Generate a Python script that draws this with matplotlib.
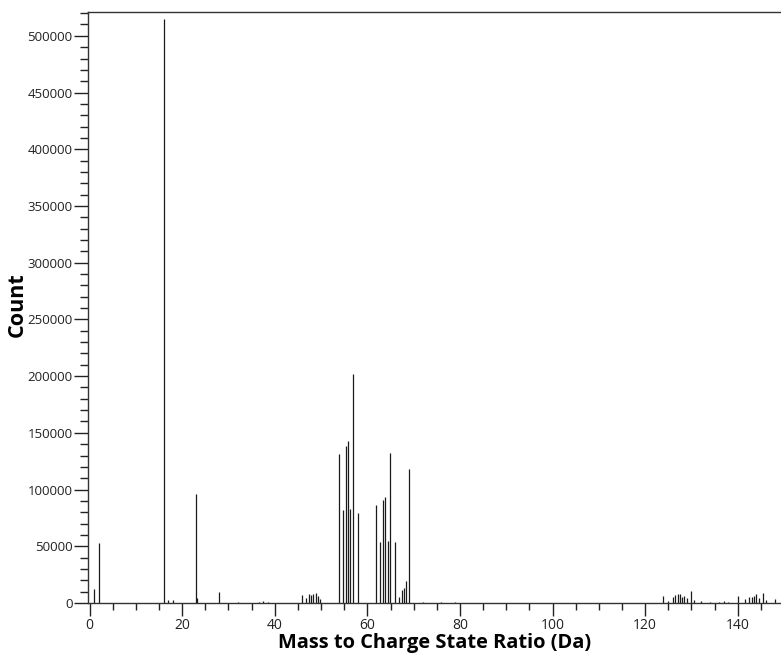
import numpy as np
import matplotlib
matplotlib.use('Agg')
import matplotlib.pyplot as plt
from matplotlib.ticker import MultipleLocator

# ==========================================================
# Picos do espectro de massa (posição em Da, contagem)
# ==========================================================
massa = [1.0, 2.0, 16.0, 17.0, 18.0, 23.0, 23.3, 28.0, 32.0, 36.5, 37.5, 38.5,
         45.8, 46.8, 47.3, 47.8, 48.3, 48.8, 49.3, 49.8,
         53.85, 54.8, 55.3, 55.9, 56.3, 56.8, 57.9,
         61.9, 62.8, 63.4, 63.9, 64.4, 64.9, 65.9,
         66.9, 67.4, 67.9, 68.4, 68.9, 72.0, 76.0, 79.0,
         123.9, 125.0, 126.0, 126.5, 127.0, 127.5, 128.0, 128.5, 129.0, 130.0,
         130.5, 132.0, 134.0, 136.0, 137.0, 138.0, 140.0, 141.5, 142.4, 143.0,
         143.5, 143.9, 144.5, 145.4, 146.0, 148.0]
contagem = [12000, 53000, 515000, 3000, 2500, 96000, 4000, 10000, 1000, 1200, 1500, 1300,
            6800, 4700, 7600, 7000, 8300, 9000, 6000, 3500,
            131000, 81700, 138000, 143000, 82600, 201700, 79000,
            86000, 53800, 90500, 93800, 55000, 132000, 53800,
            5000, 11500, 13500, 19000, 118000, 800, 600, 500,
            6400, 2000, 5000, 7000, 8000, 7500, 5500, 6000, 4000, 10500,
            3000, 2000, 1200, 1300, 1500, 1200, 6400, 3500, 5500, 5000,
            6500, 8000, 4000, 9000, 2500, 3500]

# ==========================================================
# PLOT
# ==========================================================
plt.rcParams['font.family'] = ['Open Sans', 'DejaVu Sans']

fig = plt.figure(figsize=(7.81, 6.53), dpi=100)
ax = fig.add_axes([0.1125, 0.0766, 0.889, 0.905])

ax.vlines(massa, 0, contagem, colors='#1a1a1a', linewidth=0.9)

ax.set_xlim(-0.37, 149.6)
ax.set_ylim(0, 521000)

ax.xaxis.set_major_locator(MultipleLocator(20))
ax.xaxis.set_minor_locator(MultipleLocator(5))
ax.yaxis.set_major_locator(MultipleLocator(50000))
ax.yaxis.set_minor_locator(MultipleLocator(10000))

ax.tick_params(which='both', width=1, labelsize=9.5, colors='#222222')
ax.tick_params(axis='x', which='major', length=9, pad=2, labelsize=10)
ax.tick_params(axis='x', which='minor', length=5)
ax.tick_params(axis='y', which='major', length=10, pad=1)
ax.tick_params(axis='y', which='minor', length=6)

for s in ax.spines.values():
    s.set_linewidth(1.0)
    s.set_color('#333333')

ax.set_xlabel('Mass to Charge State Ratio (Da)', fontsize=14.4, fontweight='bold')
ax.xaxis.set_label_coords(0.5, -0.05)
ax.set_ylabel('Count', fontsize=15.5, fontweight='bold')
ax.yaxis.set_label_coords(-0.086, 0.505)

fig.savefig('out.png', dpi=100)
